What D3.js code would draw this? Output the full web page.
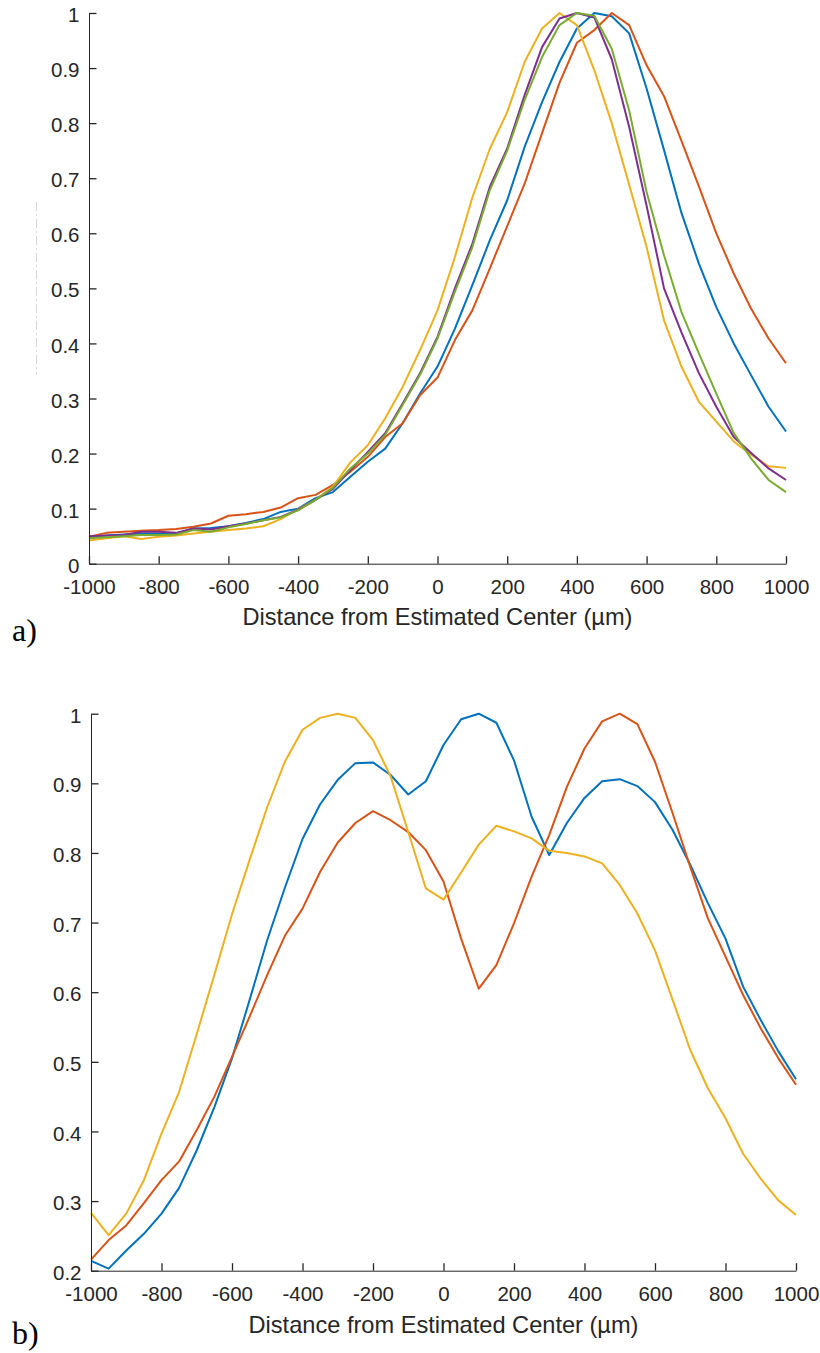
<!DOCTYPE html>
<html>
<head>
<meta charset="utf-8">
<script src="https://cdn.jsdelivr.net/npm/d3@7"></script>
<style>
  html, body { margin: 0; padding: 0; background: #fff; }
  svg { display: block; }
  .tick text { font-family: "Liberation Sans", Arial, sans-serif; font-size: 20.5px; fill: #262626; }
  .xlabel { font-family: "Liberation Sans", Arial, sans-serif; font-size: 23.6px; fill: #262626; }
  .panel-tag { font-family: "Liberation Serif", "Times New Roman", serif; font-size: 32px; fill: #000; }
</style>
</head>
<body>
<svg id="fig" width="820" height="1353"></svg>
<script>
// Sample positions (µm from the estimated center)
const distances = [-1000,-950,-900,-850,-800,-750,-700,-650,-600,-550,-500,-450,-400,-350,-300,-250,-200,-150,-100,-50,
  0,50,100,150,200,250,300,350,400,450,500,550,600,650,700,750,800,850,900,950,1000];

// Panel a) normalized profiles
const aBlue = [0.048,0.051,0.053,0.055,0.055,0.055,0.064,0.065,0.068,0.074,0.081,0.094,0.100,0.119,0.130,0.158,0.185,0.209,0.255,0.309,
  0.358,0.427,0.506,0.587,0.660,0.757,0.838,0.911,0.972,1.000,0.994,0.963,0.863,0.751,0.637,0.545,0.466,0.400,0.342,0.285,0.240];
const aOrange = [0.049,0.056,0.058,0.060,0.061,0.063,0.067,0.073,0.087,0.090,0.094,0.102,0.119,0.125,0.143,0.167,0.194,0.230,0.255,0.306,
  0.338,0.406,0.460,0.536,0.613,0.690,0.782,0.873,0.946,0.969,1.000,0.978,0.905,0.849,0.768,0.685,0.600,0.527,0.463,0.409,0.364];
const aYellow = [0.042,0.046,0.050,0.045,0.049,0.051,0.055,0.058,0.061,0.064,0.068,0.081,0.099,0.116,0.140,0.184,0.215,0.264,0.321,0.388,
  0.460,0.557,0.665,0.753,0.820,0.911,0.972,1.000,0.978,0.896,0.800,0.688,0.575,0.442,0.358,0.294,0.258,0.222,0.198,0.177,0.174];
const aPurple = [0.050,0.051,0.052,0.058,0.058,0.056,0.064,0.062,0.068,0.073,0.079,0.085,0.098,0.116,0.136,0.170,0.203,0.237,0.291,0.346,
  0.412,0.500,0.581,0.684,0.754,0.851,0.938,0.990,1.000,0.992,0.916,0.793,0.650,0.500,0.420,0.346,0.285,0.230,0.201,0.173,0.152];
const aGreen = [0.046,0.048,0.050,0.052,0.052,0.053,0.061,0.058,0.066,0.072,0.079,0.084,0.097,0.116,0.138,0.173,0.200,0.234,0.288,0.343,
  0.409,0.494,0.575,0.678,0.750,0.842,0.920,0.978,1.000,0.995,0.935,0.823,0.675,0.560,0.457,0.382,0.309,0.237,0.191,0.152,0.130];

// Panel b) normalized profiles
const bBlue = [0.214,0.203,0.229,0.253,0.282,0.319,0.373,0.435,0.505,0.589,0.675,0.750,0.820,0.870,0.905,0.929,0.930,0.912,0.884,0.903,
  0.955,0.992,1.000,0.987,0.933,0.852,0.797,0.843,0.879,0.903,0.906,0.896,0.873,0.833,0.783,0.728,0.677,0.608,0.560,0.515,0.475];
const bOrange = [0.216,0.244,0.265,0.297,0.330,0.357,0.402,0.450,0.507,0.565,0.625,0.681,0.720,0.773,0.815,0.843,0.860,0.847,0.830,0.804,
  0.759,0.677,0.605,0.639,0.699,0.766,0.826,0.895,0.950,0.989,1.000,0.985,0.931,0.857,0.780,0.706,0.651,0.596,0.548,0.505,0.467];
const bYellow = [0.283,0.251,0.282,0.330,0.397,0.457,0.540,0.625,0.712,0.790,0.866,0.931,0.977,0.994,1.000,0.994,0.962,0.910,0.830,0.749,
  0.733,0.772,0.812,0.839,0.831,0.821,0.803,0.800,0.795,0.785,0.754,0.713,0.660,0.589,0.517,0.462,0.419,0.368,0.332,0.301,0.280];

// Tick values
const xTicks = [-1000,-800,-600,-400,-200,0,200,400,600,800,1000];
const aYTicks = [0,0.1,0.2,0.3,0.4,0.5,0.6,0.7,0.8,0.9,1];
const bYTicks = [0.2,0.3,0.4,0.5,0.6,0.7,0.8,0.9,1];

const xLabel = "Distance from Estimated Center (µm)";
const colors = { blue: "#0072BD", orange: "#D95319", yellow: "#EDB120", purple: "#7E2F8E", green: "#77AC30" };

const svg = d3.select("#fig");

function drawPanel(cfg) {
  const x = d3.scaleLinear().domain([-1000, 1000]).range([cfg.left, cfg.right]);
  const y = d3.scaleLinear().domain(cfg.yDomain).range([cfg.bottom, cfg.top]);
  const g = svg.append("g");

  const line = d3.line().x((d, i) => x(distances[i])).y(d => y(d));
  cfg.series.forEach(s => {
    g.append("path")
      .datum(s.values)
      .attr("fill", "none")
      .attr("stroke", s.color)
      .attr("stroke-width", 2)
      .attr("stroke-linejoin", "round")
      .attr("d", line);
  });

  // plain hyphen-minus for negative labels
  const fmtX = d => String(d);
  const fmtY = d => (d === 0 ? "0" : d === 1 ? "1" : d.toFixed(1));

  const ax = g.append("g")
    .attr("transform", `translate(0,${cfg.bottom})`)
    .style("color", "#262626")
    .call(d3.axisBottom(x).tickValues(xTicks).tickSizeInner(-7.5).tickSizeOuter(0).tickPadding(16).tickFormat(fmtX));
  ax.selectAll(".tick text").attr("dy", "0.71em");

  const ay = g.append("g")
    .attr("transform", `translate(${cfg.left},0)`)
    .style("color", "#262626")
    .call(d3.axisLeft(y).tickValues(cfg.yTicks).tickSizeInner(-7.5).tickSizeOuter(0).tickPadding(9.5).tickFormat(fmtY));
  ay.selectAll(".tick text").attr("dy", "0.42em");

  g.selectAll(".domain").attr("stroke-width", 1);
  g.selectAll(".tick line").attr("stroke-width", 1.3);

  g.append("text")
    .attr("class", "xlabel")
    .attr("x", (cfg.left + cfg.right) / 2)
    .attr("y", cfg.labelY)
    .attr("text-anchor", "middle")
    .text(xLabel);

  g.append("text")
    .attr("class", "panel-tag")
    .attr("x", 12)
    .attr("y", cfg.tagY)
    .text(cfg.tag);
}

drawPanel({
  left: 89, right: 786, top: 13, bottom: 563.7,
  yDomain: [0, 1], yTicks: aYTicks, labelY: 625, tagY: 641, tag: "a)",
  series: [
    { values: aBlue, color: colors.blue },
    { values: aOrange, color: colors.orange },
    { values: aYellow, color: colors.yellow },
    { values: aPurple, color: colors.purple },
    { values: aGreen, color: colors.green }
  ]
});

drawPanel({
  left: 91, right: 796, top: 713.7, bottom: 1270.7,
  yDomain: [0.2, 1], yTicks: bYTicks, labelY: 1333, tagY: 1344, tag: "b)",
  series: [
    { values: bBlue, color: colors.blue },
    { values: bOrange, color: colors.orange },
    { values: bYellow, color: colors.yellow }
  ]
});

// faint leftover guide mark beside the upper y axis
svg.append("line")
  .attr("x1", 36.5).attr("x2", 36.5)
  .attr("y1", 202).attr("y2", 375)
  .attr("stroke", "#d6d6d6")
  .attr("stroke-width", 1)
  .attr("stroke-dasharray", "9 3 2 3");
</script>
</body>
</html>
